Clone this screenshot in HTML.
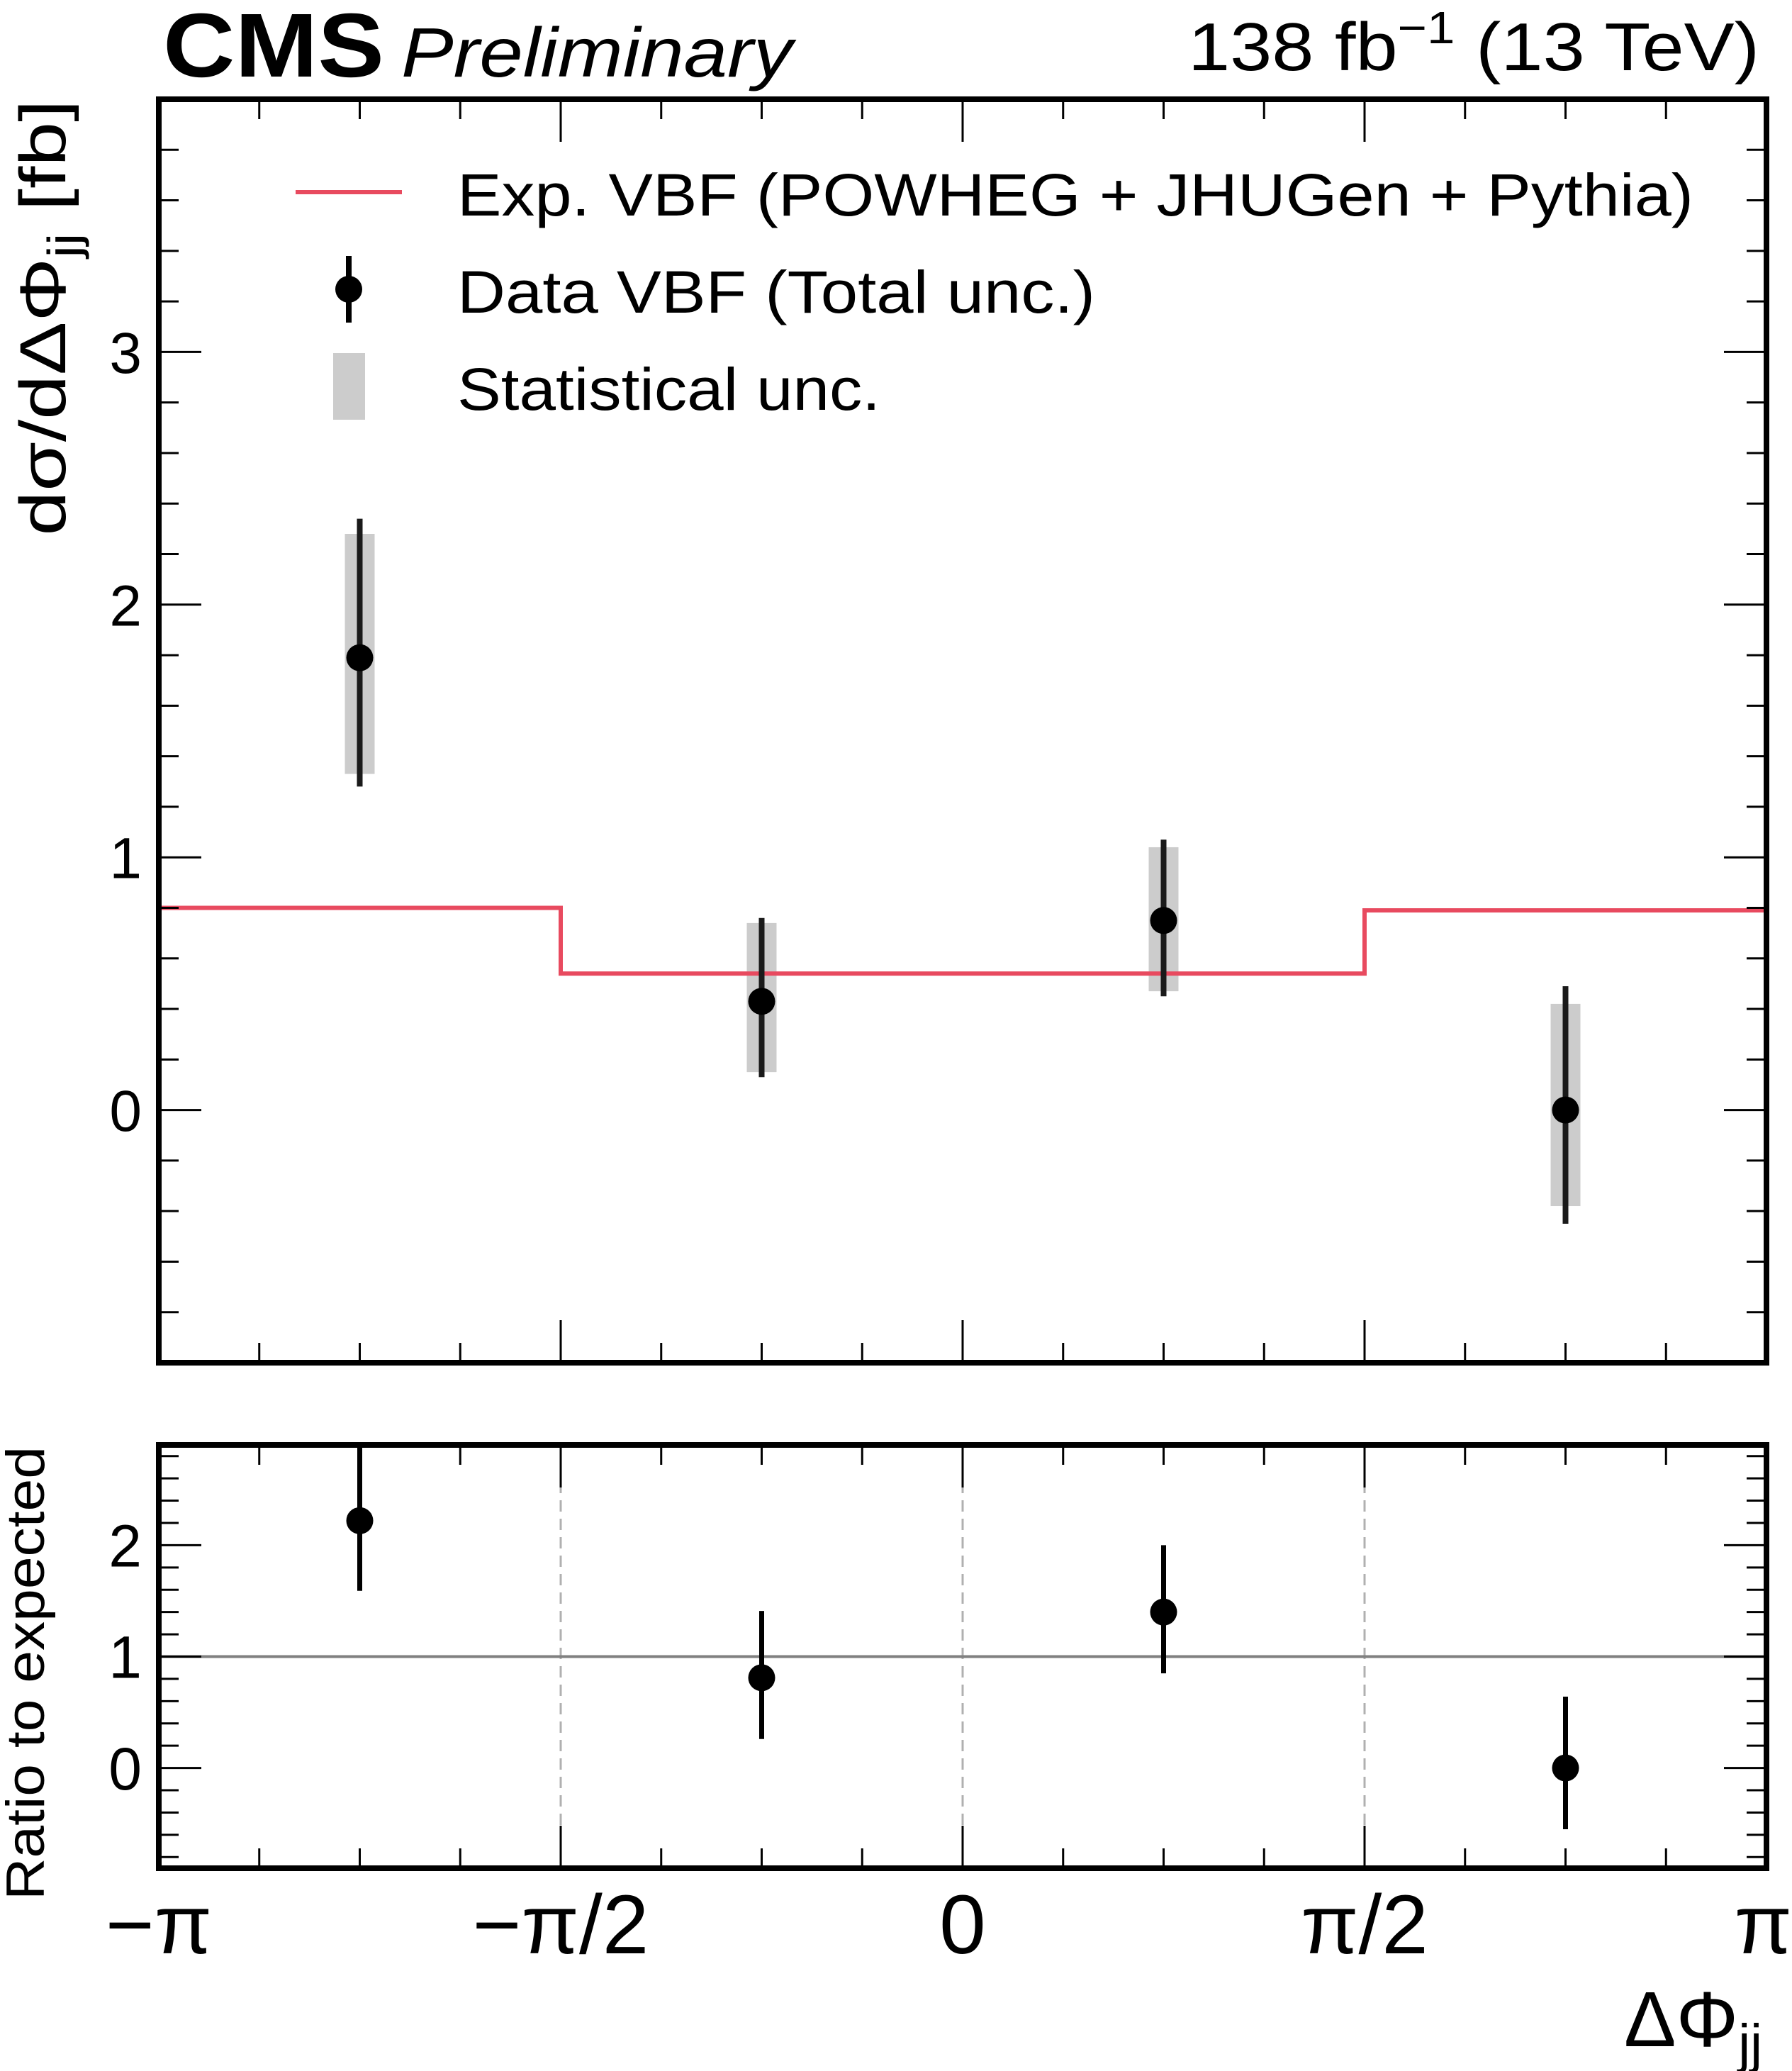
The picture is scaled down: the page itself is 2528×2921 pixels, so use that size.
<!DOCTYPE html>
<html><head><meta charset="utf-8"><style>
html,body{margin:0;padding:0;background:#fff}
svg{display:block;font-family:"Liberation Sans",sans-serif}
</style></head><body>
<svg id="c" width="2528" height="2921" viewBox="0 0 2528 2921" xmlns="http://www.w3.org/2000/svg">
<text x="230" y="108" font-size="128" font-weight="bold" textLength="312" lengthAdjust="spacingAndGlyphs">CMS</text>
<text x="566" y="108" font-size="98" font-style="italic" textLength="552" lengthAdjust="spacingAndGlyphs">Preliminary</text>
<text x="1676" y="99" font-size="96" textLength="806" lengthAdjust="spacingAndGlyphs">138 fb<tspan dy="-38" font-size="64">−1</tspan><tspan dy="38"> (13 TeV)</tspan></text>
<text transform="translate(92,448) rotate(-90)" font-size="92" text-anchor="middle" textLength="615" lengthAdjust="spacingAndGlyphs">dσ/dΔΦ<tspan dy="20" font-size="64">jj</tspan><tspan dy="-20"> [fb]</tspan></text>
<text transform="translate(62,2360) rotate(-90)" font-size="76" text-anchor="middle" textLength="640" lengthAdjust="spacingAndGlyphs">Ratio to expected</text>
<text x="2486" y="2886" font-size="110" text-anchor="end">ΔΦ<tspan dy="22" font-size="76">jj</tspan></text>
<g id="g"></g>
<line x1="417" y1="271" x2="567" y2="271" stroke="#e84a5f" stroke-width="6"/>
<text x="645" y="304" font-size="84" textLength="1744" lengthAdjust="spacingAndGlyphs">Exp. VBF (POWHEG + JHUGen + Pythia)</text>
<line x1="492" y1="361" x2="492" y2="455" stroke="#000" stroke-width="8"/>
<circle cx="492" cy="408" r="19" fill="#000"/>
<text x="645" y="441" font-size="84" textLength="900" lengthAdjust="spacingAndGlyphs">Data VBF (Total unc.)</text>
<rect x="470" y="498" width="45" height="94" fill="#cccccc"/>
<text x="645" y="578" font-size="84" textLength="597" lengthAdjust="spacingAndGlyphs">Statistical unc.</text>
</svg>
<script>
const binEdges=[-1,-0.5,0,0.5,1]; // in units of pi
const expected=[0.80,0.54,0.54,0.79];
const centers=[-0.75,-0.25,0.25,0.75];
const dataVal=[1.79,0.43,0.75,0.0];
const totLo=[1.28,0.13,0.45,-0.45];
const totHi=[2.34,0.76,1.07,0.49];
const statLo=[1.33,0.15,0.47,-0.38];
const statHi=[2.28,0.74,1.04,0.42];
const ratioVal=[2.22,0.81,1.40,0.0];
const ratioLo=[1.59,0.26,0.85,-0.55];
const ratioHi=[3.0,1.41,2.0,0.64];
const mainTicks=[0,1,2,3];
const ratioTicks=[0,1,2];
const xTickLabels=["−π","−π/2","0","π/2","π"];
const xTickVals=[-1,-0.5,0,0.5,1];

const NS="http://www.w3.org/2000/svg";
const G=document.getElementById('g');
const L=224,R=2492;
const X=v=>L+(v+1)/2*(R-L);
const mT=140,mB=1922,mMin=-1,mMax=4;
const Ym=v=>mB-(v-mMin)/(mMax-mMin)*(mB-mT);
const rT=2038,rB=2635,rMin=-0.9,rMax=2.9;
const Yr=v=>rB-(v-rMin)/(rMax-rMin)*(rB-rT);
function el(t,a,p){const e=document.createElementNS(NS,t);for(const k in a)e.setAttribute(k,a[k]);(p||G).appendChild(e);return e;}

function axes(top,bot,vmin,vmax,Yf,ticks,pfx,fs){
  const g=el('g',{});
  
  
  for(let k=-8;k<=8;k++){const v=k/8,x=X(v),maj=(k%4===0),len=maj?60:28;
    if(k===-8||k===8)continue;
    const t1=el('line',{x1:x,y1:bot,x2:x,y2:bot-len,stroke:'#000','stroke-width':3},g);
    
    
    const t2=el('line',{x1:x,y1:top,x2:x,y2:top+len,stroke:'#000','stroke-width':3},g);
    
    }
  for(let v=Math.ceil(vmin*5)/5;v<=vmax+1e-6;v+=0.2){const vv=Math.round(v*5)/5;const maj=Math.abs(vv-Math.round(vv))<1e-6;const len=maj?60:28;const y=Yf(vv);
    const a=el('line',{x1:L,y1:y,x2:L+len,y2:y,stroke:'#000','stroke-width':3},g);
    
    
    const b=el('line',{x1:R,y1:y,x2:R-len,y2:y,stroke:'#000','stroke-width':3},g);
    
    }
  ticks.forEach(v=>{const t=el('text',{x:200,y:Yf(v)+fs*0.36,'font-size':fs,'text-anchor':'end'},g);t.textContent=v;
    
    });
  const f=el('rect',{x:L,y:top,width:R-L,height:bot-top,fill:'none',stroke:'#000','stroke-width':8},g);
  
  
}

// main panel
const sg=el('g',{});


centers.forEach((c,i)=>{const r=el('rect',{x:X(c)-21,y:Ym(statHi[i]),width:42,height:Ym(statLo[i])-Ym(statHi[i]),fill:'#cccccc'},sg);
  
  });
let d='';
expected.forEach((v,i)=>{d+=(i?'L':'M')+X(binEdges[i])+' '+Ym(v)+' L'+X(binEdges[i+1])+' '+Ym(v)+' ';});
const ep=el('path',{d:d,fill:'none',stroke:'#e84a5f','stroke-width':6});


centers.forEach((c,i)=>{
  const l=el('line',{x1:X(c),y1:Ym(totLo[i]),x2:X(c),y2:Ym(totHi[i]),stroke:'#1a1a1a','stroke-width':8});
  
  
  const p=el('circle',{cx:X(c),cy:Ym(dataVal[i]),r:19,fill:'#000'});
  
  
});
axes(mT,mB,mMin,mMax,Ym,mainTicks,'main',82);

// ratio panel
[-0.5,0,0.5].forEach(v=>{const l=el('line',{x1:X(v),y1:rT,x2:X(v),y2:rB,stroke:'#b0b0b0','stroke-width':3,'stroke-dasharray':'16 10'});
  
  });
const one=el('line',{x1:L,y1:Yr(1),x2:R,y2:Yr(1),stroke:'#808080','stroke-width':4});


centers.forEach((c,i)=>{
  const l=el('line',{x1:X(c),y1:Yr(ratioLo[i]),x2:X(c),y2:Yr(Math.min(ratioHi[i],rMax)),stroke:'#000','stroke-width':7});
  
  
  const p=el('circle',{cx:X(c),cy:Yr(ratioVal[i]),r:19,fill:'#000'});
  
  
});
axes(rT,rB,rMin,rMax,Yr,ratioTicks,'ratio',84);

xTickVals.forEach((v,i)=>{
  let x=X(v),anchor='middle';
  if(i===4){x=2528;anchor='end';}
  const t=el('text',{x:x,y:2755,'font-size':118,'text-anchor':anchor});
  t.textContent=xTickLabels[i];
  
  
});
</script>
</body></html>
